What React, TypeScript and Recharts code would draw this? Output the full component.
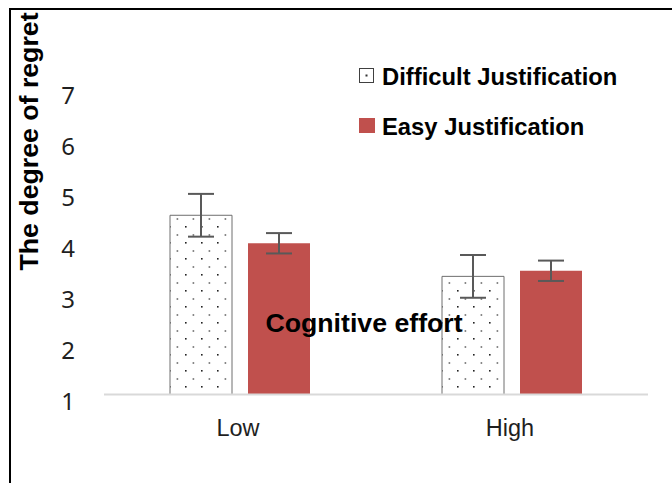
import React from 'react';
import { BarChart, Bar, XAxis, YAxis, ErrorBar, Legend } from 'recharts';

const categories = ['Low', 'High'];
const difficultValues = [4.52, 3.32];
const difficultErrors = [0.42, 0.42];
const easyValues = [3.97, 3.43];
const easyErrors = [0.2, 0.2];
const seriesNames = ['Difficult Justification', 'Easy Justification'];
const yTicks = [1, 2, 3, 4, 5, 6, 7];
const yTitle = 'The degree of regret';
const xTitle = 'Cognitive effort';

const data = categories.map((c, i) => ({
  category: c,
  difficult: difficultValues[i],
  difficultErr: difficultErrors[i],
  easy: easyValues[i],
  easyErr: easyErrors[i],
}));

const RED = '#C0504D';
const BOLD = "'Liberation Sans', Arial, sans-serif";

const YTick = (props: any) => {
  const { y, payload } = props;
  return (
    <text x={75} y={y + 15} textAnchor="end" fontFamily="'Noto Sans', sans-serif" fontSize={24} fill="#1f1f1f">
      {payload.value}
    </text>
  );
};

const XTick = (props: any) => {
  const { x, payload } = props;
  return (
    <text x={x - 2} y={436} textAnchor="middle" fontFamily={BOLD} fontSize={23.5} fill="#1f1f1f">
      {payload.value}
    </text>
  );
};

const YTitle = () => (
  <text
    x={38}
    y={141.5}
    transform="rotate(-90, 38, 141.5)"
    textAnchor="middle"
    fontFamily={BOLD}
    fontWeight="bold"
    fontSize={26.7}
    fill="#000"
  >
    {yTitle}
  </text>
);

const XTitle = () => (
  <text x={364} y={331.5} textAnchor="middle" fontFamily={BOLD} fontWeight="bold" fontSize={26.7} fill="#000">
    {xTitle}
  </text>
);

const LegendContent = () => (
  <div style={{ position: 'relative', width: 0, height: 0 }}>
    {seriesNames.map((name, i) => (
      <div
        key={name}
        style={{
          position: 'absolute',
          left: 359,
          top: i === 0 ? 62.5 : 112.5,
          height: 27,
          display: 'flex',
          alignItems: 'center',
          whiteSpace: 'nowrap',
        }}
      >
        <svg width={16} height={16} style={{ display: 'block' }}>
          {i === 0 ? (
            <g>
              <rect x={0.5} y={0.5} width={14} height={14} fill="#fff" stroke="#404040" strokeWidth={1} />
              <rect x={6.5} y={6.5} width={2} height={2} fill="#333" />
            </g>
          ) : (
            <rect x={0} y={0} width={16} height={15} fill={RED} />
          )}
        </svg>
        <span
          style={{
            marginLeft: 7,
            fontFamily: BOLD,
            fontWeight: 'bold',
            fontSize: 23.8,
            lineHeight: '27px',
            color: '#000',
          }}
        >
          {name}
        </span>
      </div>
    ))}
  </div>
);

export default function App() {
  return (
    <div
      style={{
        position: 'absolute',
        left: 0,
        top: 0,
        width: 672,
        height: 483,
        overflow: 'hidden',
        background: '#fff',
      }}
    >
      <BarChart
        width={672}
        height={483}
        data={data}
        margin={{ top: 89, right: 24, bottom: 58.5, left: 0 }}
        barSize={62}
        barGap={16}
      >
        <defs>
          <pattern id="dots" patternUnits="userSpaceOnUse" width={16} height={16}>
            <rect x={0} y={0} width={16} height={16} fill="#fff" />
            <rect x={0.6} y={10.2} width={1.6} height={1.6} fill="#6a6a6a" />
            <rect x={9} y={2} width={1.6} height={1.6} fill="#222" />
          </pattern>
        </defs>
        <YAxis
          type="number"
          domain={[1, 7]}
          ticks={yTicks}
          width={104}
          axisLine={false}
          tickLine={false}
          tickSize={0}
          tickMargin={0}
          tick={<YTick />}
          label={{ value: yTitle, content: () => <YTitle /> }}
        />
        <Bar
          dataKey="difficult"
          name={seriesNames[0]}
          fill="url(#dots)"
          stroke="#6e6e6e"
          strokeWidth={1}
          isAnimationActive={false}
        >
          <ErrorBar dataKey="difficultErr" width={13} stroke="#595959" strokeWidth={2} direction="y" isAnimationActive={false} />
        </Bar>
        <Bar dataKey="easy" name={seriesNames[1]} fill={RED} isAnimationActive={false}>
          <ErrorBar dataKey="easyErr" width={13} stroke="#595959" strokeWidth={2} direction="y" isAnimationActive={false} />
        </Bar>
        <XAxis
          dataKey="category"
          height={30}
          axisLine={{ stroke: '#d9d9d9', strokeWidth: 2 }}
          tickLine={false}
          tick={<XTick />}
          label={{ value: xTitle, content: () => <XTitle /> }}
        />
        <Legend
          layout="horizontal"
          verticalAlign="middle"
          align="center"
          content={() => <LegendContent />}
          wrapperStyle={{ left: 0, top: 0, width: 0, height: 0, margin: 0, padding: 0 }}
        />
      </BarChart>
      <div style={{ position: 'absolute', left: 9, top: 8, width: 2, height: 475, background: '#000' }} />
      <div style={{ position: 'absolute', left: 9, top: 8, width: 663, height: 2, background: '#000' }} />
    </div>
  );
}
